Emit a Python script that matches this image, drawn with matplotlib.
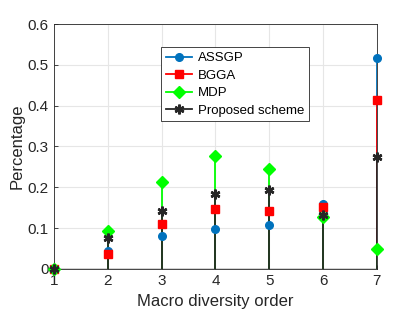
import matplotlib
matplotlib.use("Agg")
import matplotlib.pyplot as plt
import numpy as np

plt.rcParams['font.family'] = ['Liberation Sans', 'DejaVu Sans']

orders = [1, 2, 3, 4, 5, 6, 7]
assgp = [0, 0.043, 0.080, 0.098, 0.108, 0.158, 0.516]
bgga = [0, 0.0375, 0.109, 0.148, 0.143, 0.152, 0.413]
mdp = [0, 0.094, 0.214, 0.276, 0.245, 0.127, 0.048]
proposed = [0, 0.076, 0.141, 0.183, 0.194, 0.133, 0.275]

names = ['ASSGP', 'BGGA', 'MDP', 'Proposed scheme']
colors = ['#0072BD', '#FF0000', '#00FF00', '#262626']
markers = ['o', 's', 'D', (6, 2, 0)]
msizes = [5.5, 5.5, 6, 7]
medges = [1.0, 1.0, 1.0, 1.8]

fig = plt.figure(figsize=(4.15, 3.12), dpi=100)
ax = fig.add_axes([0.130, 0.138, 0.778, 0.785])

handles = []
for vals, name, c, m, ms, mew in zip([assgp, bgga, mdp, proposed], names, colors, markers, msizes, medges):
    ml, sl, bl = ax.stem(orders, vals, linefmt='-', basefmt=' ')
    plt.setp(sl, color=c, linewidth=1.3)
    plt.setp(ml, color=c, marker=m, markersize=ms, markerfacecolor=c,
             markeredgecolor=c, markeredgewidth=mew, clip_on=False, zorder=3)
    h, = ax.plot([], [], color=c, marker=m, markersize=ms, markeredgewidth=mew,
                 linewidth=1.3, label=name)
    handles.append(h)

ax.axhline(0, color='#262626', linewidth=1.0, zorder=1)

ax.set_xlim(1, 7)
ax.set_ylim(0, 0.6)
ax.set_xticks(orders)
ax.set_yticks(np.arange(0, 0.61, 0.1))
ax.set_yticklabels(['0', '0.1', '0.2', '0.3', '0.4', '0.5', '0.6'])
ax.grid(True, color='#e6e6e6', linewidth=0.8)
ax.set_axisbelow(True)
for s in ax.spines.values():
    s.set_color('#262626')
    s.set_linewidth(0.6)
ax.tick_params(direction='in', length=3, labelsize=11, colors='#262626', width=0.6, pad=4)
ax.set_xlabel('Macro diversity order', fontsize=12, color='#262626', labelpad=4)
ax.set_ylabel('Percentage', fontsize=12, color='#262626', labelpad=2)

leg = ax.legend(handles=handles, loc='upper left', bbox_to_anchor=(0.333, 0.905),
                fontsize=9.5, frameon=True, fancybox=False, framealpha=1,
                edgecolor='#262626', handlelength=2.0, borderpad=0.35,
                labelspacing=0.4, handletextpad=0.4, borderaxespad=0)
leg.get_frame().set_linewidth(0.6)

fig.savefig('out.png', dpi=100)
